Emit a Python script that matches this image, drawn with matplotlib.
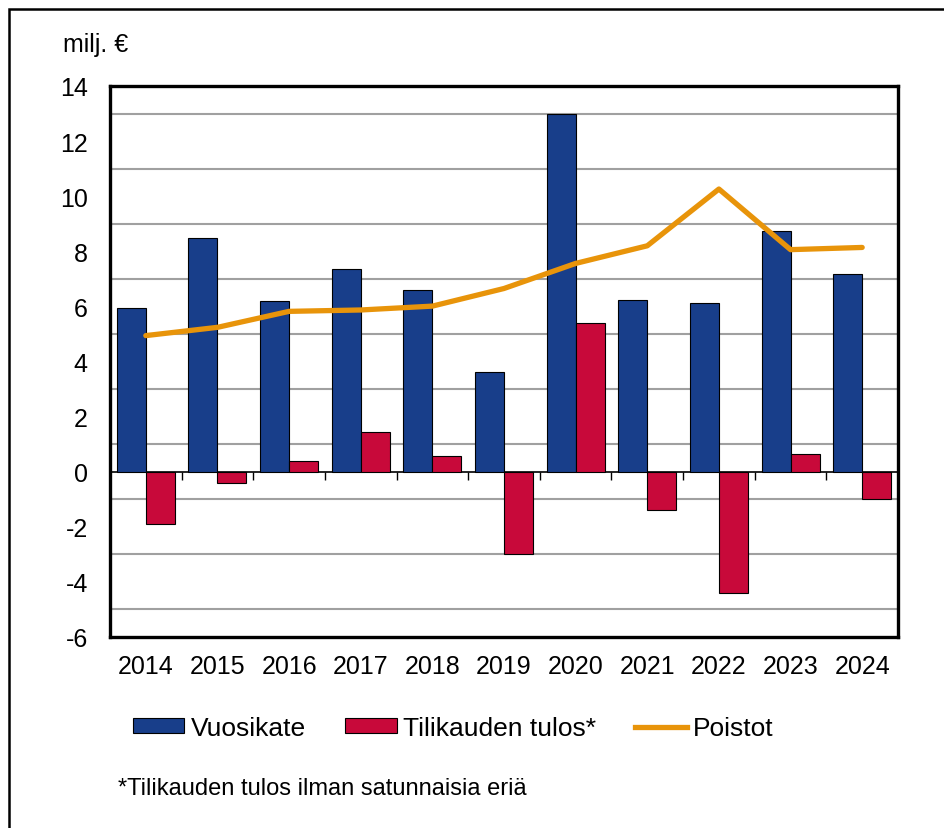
import numpy as np
import matplotlib.pyplot as plt
from matplotlib.patches import Rectangle
from matplotlib.lines import Line2D

plt.rcParams['font.family'] = ['Liberation Sans', 'DejaVu Sans']

years = ["2014", "2015", "2016", "2017", "2018", "2019",
         "2020", "2021", "2022", "2023", "2024"]
vuosikate = [5.94, 8.48, 6.21, 7.35, 6.61, 3.63, 12.98, 6.25, 6.13, 8.73, 7.18]
tulos = [-1.91, -0.42, 0.39, 1.43, 0.58, -3.0, 5.40, -1.38, -4.41, 0.64, -1.0]
poistot = [4.94, 5.24, 5.82, 5.87, 6.01, 6.65, 7.56, 8.2, 10.26, 8.06, 8.14]

series_names = ["Vuosikate", "Tilikauden tulos*", "Poistot"]
unit_label = "milj. €"
footnote = "*Tilikauden tulos ilman satunnaisia eriä"

BLUE = "#183E8A"
RED = "#C8093A"
ORANGE = "#E8940A"
FS = 18
LEG_FS = 19

fig = plt.figure(figsize=(9.45, 8.29), dpi=100)
ax = fig.add_axes([110/945, 1 - 638/829, 788/945, 551/829])

x = np.arange(len(years))
w = 0.405
ax.bar(x - w/2, vuosikate, w, color=BLUE, edgecolor="black", linewidth=0.8, zorder=3)
ax.bar(x + w/2, tulos, w, color=RED, edgecolor="black", linewidth=0.8, zorder=3)
ax.plot(x, poistot, color=ORANGE, linewidth=3.8, solid_capstyle="round", zorder=4)

ymin, ymax = -6, 14
ax.set_ylim(ymin, ymax)
ax.set_xlim(-0.5, len(years) - 0.5)
ax.set_yticks(np.arange(ymin, ymax + 1, 2))
ax.set_yticklabels([str(v) for v in range(ymin, ymax + 1, 2)], fontsize=FS)
ax.tick_params(axis="y", length=0, pad=16)
ax.set_xticks(x)
ax.set_xticklabels(years, fontsize=FS)
ax.tick_params(axis="x", length=0, pad=12)

# gridlines on odd values
for g in range(ymin + 1, ymax, 2):
    ax.axhline(g, color="#A0A0A0", linewidth=1.5, zorder=1)

for s in ax.spines.values():
    s.set_linewidth(2.4)
    s.set_color("black")

# zero axis with tick marks between categories
zero_pos = (0 - ymin) / (ymax - ymin)
sec = ax.secondary_xaxis(zero_pos)
sec.set_xticks(np.arange(len(years) + 1) - 0.5)
sec.set_xticklabels([])
sec.tick_params(axis="x", direction="out", length=6, width=1, color="black")
sec.spines["bottom"].set_linewidth(1.2)
sec.spines["bottom"].set_zorder(5)

fig.text(63/945, 1 - 45/829, unit_label, fontsize=FS, ha="left", va="center")

handles = [
    Rectangle((0, 0), 1, 1, facecolor=BLUE, edgecolor="black", linewidth=0.8),
    Rectangle((0, 0), 1, 1, facecolor=RED, edgecolor="black", linewidth=0.8),
    Line2D([0], [0], color=ORANGE, linewidth=3.8),
]
fig.legend(handles, series_names, loc="center left",
           bbox_to_anchor=(133/945, 1 - 729/829), ncol=3, frameon=False,
           fontsize=LEG_FS, handlelength=1.95, handleheight=0.5,
           handletextpad=0.23, columnspacing=1.5, borderpad=0, borderaxespad=0)

fig.text(118/945, 1 - 789/829, footnote, fontsize=17, ha="left", va="center")

# outer frame (left and top visible)
fig.patches.append(Rectangle((9/945, -0.05), 1.2, 1 - 10/829 + 0.05,
                             transform=fig.transFigure, fill=False,
                             edgecolor="black", linewidth=1.8))

fig.savefig("out.png", dpi=100)
